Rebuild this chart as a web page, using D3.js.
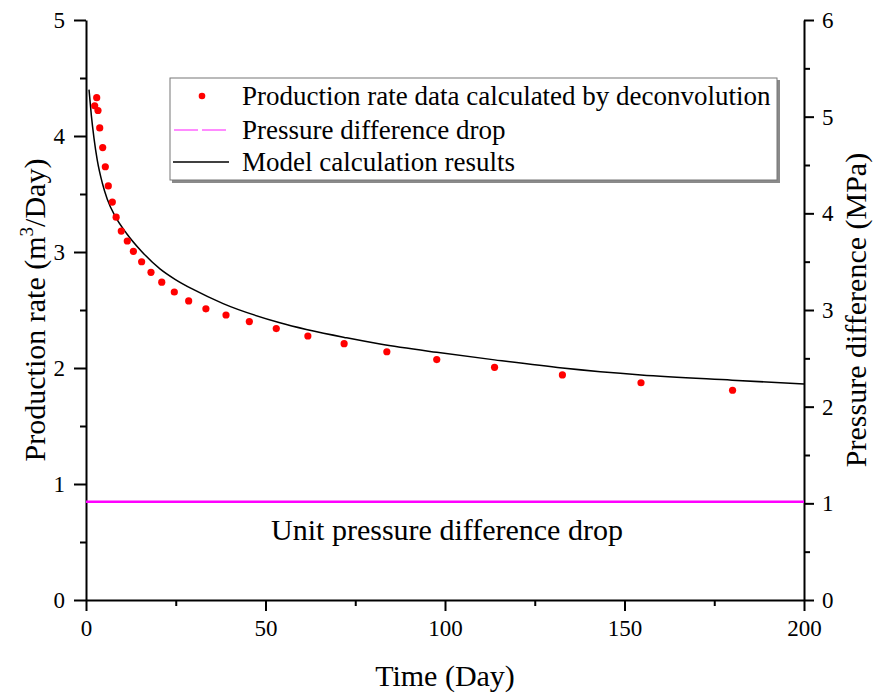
<!DOCTYPE html>
<html>
<head>
<meta charset="utf-8">
<script src="https://cdn.jsdelivr.net/npm/d3@7/dist/d3.min.js"></script>
<style>
  html, body { margin: 0; padding: 0; background: #fff; }
  svg { display: block; }
</style>
</head>
<body>
<svg id="chart" width="877" height="693"></svg>
<script>
// Deconvolved production rate (m3/day) against time (day)
const dataTime = [2.98, 2.42, 3.34, 3.82, 4.65, 5.38, 6.21, 7.33, 8.4, 9.83, 11.5, 13.2, 15.5, 18.1, 21.1,
  24.6, 28.6, 33.4, 39.0, 45.5, 53.0, 61.8, 71.9, 83.8, 97.7, 113.8, 132.7, 154.6, 180.1];
const dataRate = [4.33, 4.26, 4.22, 4.07, 3.90, 3.735, 3.57, 3.43, 3.30, 3.18, 3.095, 3.006, 2.916, 2.825, 2.74,
  2.655, 2.578, 2.51, 2.457, 2.40, 2.34, 2.276, 2.21, 2.14, 2.073, 2.006, 1.94, 1.873, 1.808];

// Model calculation results
const modelTime = [0.84, 1.48, 2.23, 3.15, 4.54, 5.93, 8.27, 11.3, 15.5, 20.6, 24.8, 30, 38.2, 54, 72.6, 81.9, 97.7, 113.8, 132.7, 154.6, 180, 200];
const modelRate = [4.40, 4.18, 3.98, 3.79, 3.595, 3.455, 3.30, 3.16, 3.005, 2.855, 2.765, 2.675, 2.555, 2.39, 2.26, 2.207, 2.135, 2.07, 2.0, 1.94, 1.895, 1.862];

// Unit pressure difference drop (MPa)
const dropTime = [0, 200];
const dropPressure = [1, 1];

const xTicks = [0, 50, 100, 150, 200];
const yLeftTicks = [0, 1, 2, 3, 4, 5];
const yRightTicks = [0, 1, 2, 3, 4, 5, 6];

const legendLabels = ["Production rate data calculated by deconvolution", "Pressure difference drop", "Model calculation results"];

const FONT = '"Liberation Serif", "Times New Roman", Times, serif';

const svg = d3.select("#chart").attr("font-family", FONT);
const plot = { left: 86, right: 804, top: 20, bottom: 600 };

const x = d3.scaleLinear().domain([0, 200]).range([plot.left, plot.right]);
const yL = d3.scaleLinear().domain([0, 5]).range([plot.bottom, plot.top]);
const yR = d3.scaleLinear().domain([0, 6]).range([plot.bottom, plot.top]);

function styleAxis(g) {
  g.attr("font-family", FONT).attr("font-size", 23);
  g.select(".domain").attr("stroke", "#000").attr("stroke-width", 2);
  g.selectAll(".tick line").attr("stroke", "#000").attr("stroke-width", 2);
  g.selectAll(".tick text").attr("fill", "#000").attr("font-family", FONT).attr("font-size", 23);
}
function styleMinor(g) {
  g.select(".domain").remove();
  g.selectAll("text").remove();
  g.selectAll("line").attr("stroke", "#000").attr("stroke-width", 2);
}

// minor ticks
const minorX = d3.range(25, 200, 50);
const minorL = d3.range(0.5, 5, 1);
const minorR = d3.range(0.5, 6, 1);

svg.append("g").attr("transform", `translate(0,${plot.bottom})`)
  .call(d3.axisBottom(x).tickValues(minorX).tickSize(6).tickSizeOuter(0)).call(styleMinor);
svg.append("g").attr("transform", `translate(${plot.left},0)`)
  .call(d3.axisLeft(yL).tickValues(minorL).tickSize(6).tickSizeOuter(0)).call(styleMinor);
svg.append("g").attr("transform", `translate(${plot.right},0)`)
  .call(d3.axisRight(yR).tickValues(minorR).tickSize(6).tickSizeOuter(0)).call(styleMinor);

svg.append("g").attr("transform", `translate(0,${plot.bottom})`)
  .call(d3.axisBottom(x).tickValues(xTicks).tickSize(11).tickPadding(9).tickSizeOuter(0).tickFormat(d3.format("d")))
  .call(styleAxis);
svg.append("g").attr("transform", `translate(${plot.left},0)`)
  .call(d3.axisLeft(yL).tickValues(yLeftTicks).tickSize(12).tickPadding(9).tickSizeOuter(0).tickFormat(d3.format("d")))
  .call(styleAxis);
svg.append("g").attr("transform", `translate(${plot.right},0)`)
  .call(d3.axisRight(yR).tickValues(yRightTicks).tickSize(10).tickPadding(8).tickSizeOuter(0).tickFormat(d3.format("d")))
  .call(styleAxis);

// Pressure difference drop line
const dropData = dropTime.map((t, i) => ({ t, p: dropPressure[i] }));
svg.append("path")
  .datum(dropData)
  .attr("fill", "none")
  .attr("stroke", "#ff00ff")
  .attr("stroke-width", 2.5)
  .attr("d", d3.line().x(d => x(d.t)).y(d => yR(d.p) - 1.5));

// Model curve
const modelData = modelTime.map((t, i) => ({ t, q: modelRate[i] }));
svg.append("path")
  .datum(modelData)
  .attr("fill", "none")
  .attr("stroke", "#000")
  .attr("stroke-width", 1.5)
  .attr("d", d3.line().curve(d3.curveMonotoneX).x(d => x(d.t)).y(d => yL(d.q)));

// Deconvolution points
const pts = dataTime.map((t, i) => ({ t, q: dataRate[i] }));
svg.append("g").selectAll("circle")
  .data(pts)
  .join("circle")
  .attr("cx", d => x(d.t))
  .attr("cy", d => yL(d.q))
  .attr("r", 3.6)
  .attr("fill", "#ff0000");

// Annotation
svg.append("text")
  .attr("x", x(100) + 2)
  .attr("y", 540)
  .attr("text-anchor", "middle")
  .attr("font-size", 30)
  .text("Unit pressure difference drop");

// Axis titles
svg.append("text")
  .attr("x", x(100))
  .attr("y", 686)
  .attr("text-anchor", "middle")
  .attr("font-size", 30)
  .text("Time (Day)");

const leftTitle = svg.append("text")
  .attr("transform", `translate(45,${(plot.top + plot.bottom) / 2}) rotate(-90)`)
  .attr("text-anchor", "middle")
  .attr("font-size", 30);
leftTitle.append("tspan").text("Production rate (m");
leftTitle.append("tspan").attr("dy", -12).attr("font-size", 19).text("3");
leftTitle.append("tspan").attr("dy", 12).text("/Day)");

svg.append("text")
  .attr("transform", `translate(866,${(plot.top + plot.bottom) / 2}) rotate(-90)`)
  .attr("text-anchor", "middle")
  .attr("font-size", 30)
  .text("Pressure difference (MPa)");

// Legend
const lg = svg.append("g");
lg.append("rect").attr("x", 172).attr("y", 80).attr("width", 608).attr("height", 103).attr("fill", "#8a8a8a");
lg.append("rect").attr("x", 170).attr("y", 78).attr("width", 607).attr("height", 102)
  .attr("fill", "#fff").attr("stroke", "#777").attr("stroke-width", 1);

const rowY = [96, 130, 162];
lg.append("circle").attr("cx", 202).attr("cy", rowY[0]).attr("r", 3.3).attr("fill", "#ff0000");
lg.append("line").attr("x1", 174).attr("x2", 228).attr("y1", rowY[1]).attr("y2", rowY[1])
  .attr("stroke", "#ff66ff").attr("stroke-width", 1.5).attr("stroke-dasharray", "24,4");
lg.append("line").attr("x1", 173).attr("x2", 229).attr("y1", rowY[2]).attr("y2", rowY[2])
  .attr("stroke", "#000").attr("stroke-width", 1.5);
legendLabels.forEach((s, i) => {
  lg.append("text").attr("x", 242).attr("y", rowY[i] + 9).attr("font-size", 27).text(s);
});
</script>
</body>
</html>
